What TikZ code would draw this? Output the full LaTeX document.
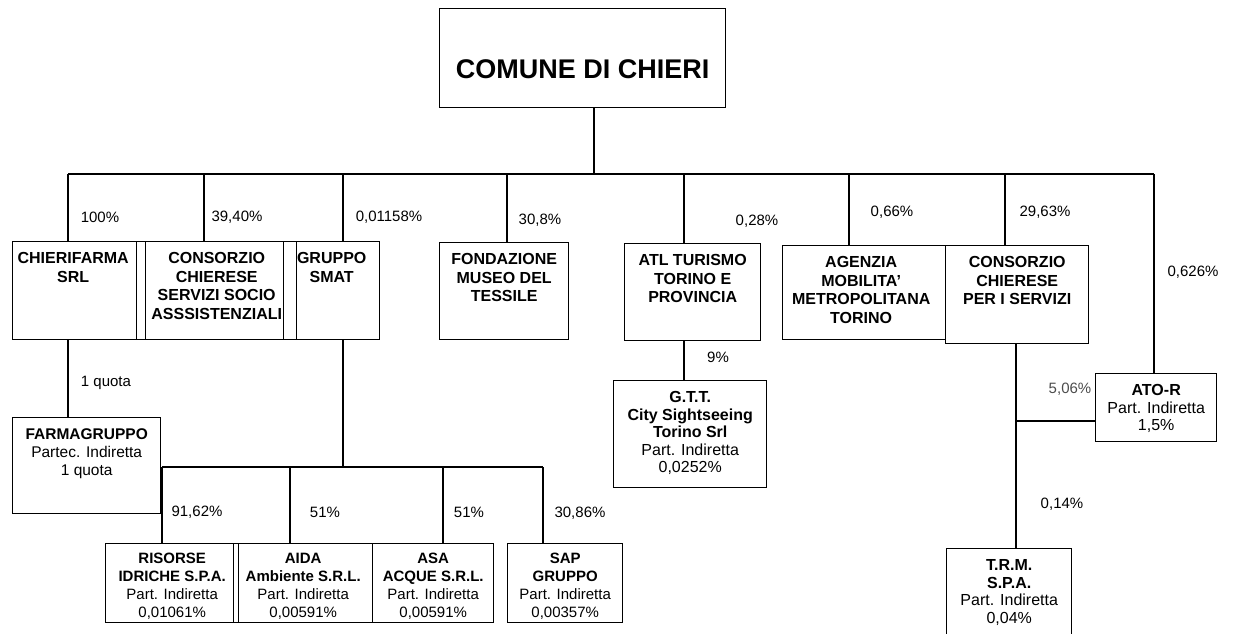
\documentclass[tikz,border=0pt]{standalone}
\usepackage{fontspec}
\setmainfont{Liberation Sans}
\usetikzlibrary{positioning,calc}

\begin{document}
\begin{tikzpicture}[x=1pt,y=-1pt,
  ente/.style={draw, line width=1.4pt, inner sep=0pt, anchor=north west},
  nome/.style={inner sep=0pt, anchor=north, yshift=-11.5pt, align=center, font=\fontsize{16}{18.5}\selectfont},
  piccolo/.style={font=\fontsize{15}{18}\selectfont, yshift=1.5pt},
  quota/.style={inner sep=0pt, font=\fontsize{15}{18}\selectfont},
  linea/.style={line width=1.3pt}]
\useasboundingbox (0,0) rectangle (1235,634);

% comune
\node[ente, minimum width=286pt, minimum height=99pt,
  label={[nome, anchor=center, font=\fontsize{27}{30}\selectfont]center:\textbf{COMUNE DI CHIERI}}] (comune) at (439,8) {};

% partecipazioni dirette
\node[ente, minimum width=133pt, minimum height=98pt,
  label={[nome, xshift=-6pt]north:{\textbf{CHIERIFARMA}\\\textbf{SRL}}}] (chierifarma) at (12,241) {};
\node[ente, minimum width=160pt, minimum height=98pt,
  label={[nome]north:{\textbf{CONSORZIO}\\\textbf{CHIERESE}\\\textbf{SERVIZI SOCIO}\\\textbf{ASSSISTENZIALI}}}] (consorzio) at (136,241) {};
\node[ente, minimum width=96pt, minimum height=98pt,
  label={[nome]north:{\textbf{GRUPPO}\\\textbf{SMAT}}}] (smat) at (283,241) {};
\node[ente, minimum width=129pt, minimum height=97pt,
  label={[nome]north:{\textbf{FONDAZIONE}\\\textbf{MUSEO DEL}\\\textbf{TESSILE}}}] (fondazione) at (439,242) {};
\node[ente, minimum width=136pt, minimum height=97pt,
  label={[nome]north:{\textbf{ATL TURISMO}\\\textbf{TORINO E}\\\textbf{PROVINCIA}}}] (atl) at (624,243) {};
\node[ente, minimum width=163pt, minimum height=94pt,
  label={[nome, xshift=-3pt]north:{\textbf{AGENZIA}\\\textbf{MOBILITA'}\\\textbf{METROPOLITANA}\\\textbf{TORINO}}}] (agenzia) at (782,245) {};
\node[ente, minimum width=143pt, minimum height=98pt,
  label={[nome]north:{\textbf{CONSORZIO}\\\textbf{CHIERESE}\\\textbf{PER I SERVIZI}}}] (servizi) at (945,245) {};
\node[ente, minimum width=121pt, minimum height=68pt,
  label={[nome, font=\fontsize{16}{17.5}\selectfont]north:{\textbf{ATO-R}\\Part. Indiretta\\1,5\%}}] (ator) at (1095,373) {};

% partecipazioni indirette
\node[ente, minimum width=153pt, minimum height=107pt,
  label={[nome, font=\fontsize{16}{17.5}\selectfont]north:{\textbf{G.T.T.}\\\textbf{City Sightseeing}\\\textbf{Torino Srl}\\Part. Indiretta\\0,0252\%}}] (gtt) at (613,380) {};
\node[ente, minimum width=148pt, minimum height=96pt,
  label={[nome, font=\fontsize{15.5}{18}\selectfont]north:{\textbf{FARMAGRUPPO}\\Partec. Indiretta\\1 quota}}] (farmagruppo) at (12,417) {};
\node[ente, minimum width=133pt, minimum height=79pt,
  label={[nome, piccolo]north:{\textbf{RISORSE}\\\textbf{IDRICHE S.P.A.}\\Part. Indiretta\\0,01061\%}}] (risorse) at (105,543) {};
\node[ente, minimum width=139pt, minimum height=79pt,
  label={[nome, piccolo]north:{\textbf{AIDA}\\\textbf{Ambiente S.R.L.}\\Part. Indiretta\\0,00591\%}}] (aida) at (233,543) {};
\node[ente, minimum width=121pt, minimum height=79pt,
  label={[nome, piccolo]north:{\textbf{ASA}\\\textbf{ACQUE S.R.L.}\\Part. Indiretta\\0,00591\%}}] (asa) at (372,543) {};
\node[ente, minimum width=115pt, minimum height=79pt,
  label={[nome, piccolo]north:{\textbf{SAP}\\\textbf{GRUPPO}\\Part. Indiretta\\0,00357\%}}] (sap) at (507,543) {};
\node[ente, minimum width=125pt, minimum height=90pt,
  label={[nome, font=\fontsize{16}{17.5}\selectfont]north:{\textbf{T.R.M.}\\\textbf{S.P.A.}\\Part. Indiretta\\0,04\%}}] (trm) at (946,548) {};

% linee dal comune
\coordinate (hub) at (594,174);
\draw[linea] (comune.south -| hub) -- (hub);
\foreach \x/\n in {68/chierifarma,204/consorzio,343/smat,507/fondazione,684/atl,849/agenzia,1005/servizi,1154/ator}{
  \coordinate (d-\n) at (\x,174);
  \draw[linea] (d-\n) -- (d-\n |- \n.north);
}
\draw[linea] (d-chierifarma) -- (d-ator);

% linee indirette
\draw[linea] (d-chierifarma |- chierifarma.south) -- (d-chierifarma |- farmagruppo.north);
\draw[linea] (d-atl |- atl.south) -- (d-atl |- gtt.north);
\coordinate (hub2) at (343,467);
\draw[linea] (d-smat |- smat.south) -- (hub2);
\foreach \x/\n in {162/risorse,290/aida,443/asa,543/sap}{
  \coordinate (e-\n) at (\x,467);
  \draw[linea] (e-\n) -- (e-\n |- \n.north);
}
\draw[linea] (e-risorse) -- (e-sap);
\coordinate (k) at (1016,421);
\draw[linea] (k |- servizi.south) -- (k |- trm.north);
\draw[linea] (k) -- (k -| ator.west);

% quote
\node[quota] (q1) at (100,217) {100\%};
\node[quota] (q2) at (237,217) {39,40\%};
\node[quota] (q3) at (389,217) {0,01158\%};
\node[quota] (q4) at (540,220) {30,8\%};
\node[quota] (q5) at (757,221) {0,28\%};
\node[quota] (q6) at (892,212) {0,66\%};
\node[quota] (q7) at (1045,212) {29,63\%};
\node[quota] (q8) at (1193,272) {0,626\%};
\node[quota] (q9) at (106,383) {1 quota};
\node[quota] (q10) at (718,357) {9\%};
\node[quota, text=black!70] (q11) at (1070,389) {5,06\%};
\node[quota] (q12) at (1062,504) {0,14\%};
\node[quota] (q13) at (197,512) {91,62\%};
\node[quota] (q14) at (325,512) {51\%};
\node[quota] (q15) at (469,512) {51\%};
\node[quota] (q16) at (580,513) {30,86\%};
\end{tikzpicture}
\end{document}
